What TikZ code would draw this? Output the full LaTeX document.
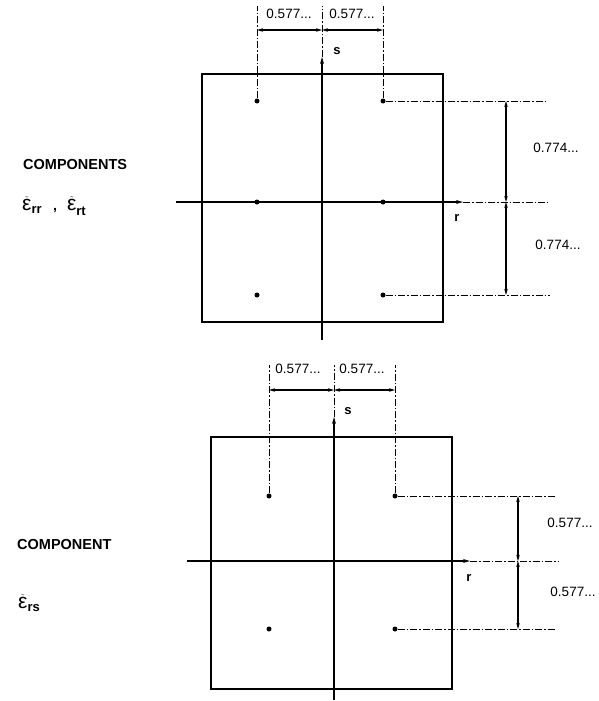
\documentclass[tikz,border=0pt]{standalone}
\usepackage{amsmath}
\usepackage{fontspec}
\setmainfont{Liberation Sans}
\usetikzlibrary{arrows.meta,positioning}

\tikzset{
  gpt/.style={circle,fill=black,inner sep=0pt,minimum size=5pt},
  frame/.style={line width=1.3pt},
  axis/.style={line width=1.3pt,-{Stealth[length=7pt,width=4pt]}},
  extline/.style={line width=0.7pt,dash pattern=on 7pt off 2pt on 1.5pt off 2pt},
  dimline/.style={line width=1.1pt,{Stealth[length=6pt,width=3.5pt]}-{Stealth[length=6pt,width=3.5pt]}},
  dimtext/.style={font=\fontsize{13.5}{14}\selectfont,inner sep=0pt},
  axtext/.style={font=\fontsize{13}{14}\selectfont\bfseries,inner sep=0pt},
  captext/.style={font=\fontsize{14.5}{16}\selectfont\bfseries,inner sep=0pt,anchor=west},
  epstext/.style={inner sep=0pt,anchor=west}
}
\newcommand{\epsc}[1]{$\tilde{\text{\fontsize{21}{22}\selectfont ε}}%
  _{\text{\fontsize{13}{14}\selectfont\bfseries #1}}$}

\begin{document}
\begin{tikzpicture}[x=1pt,y=-1pt]
  \useasboundingbox (0,0) rectangle (598,701);

  % upper element
  \begin{scope}
    \draw[frame] (202,74) rectangle (443,322);
    \node[gpt] (p11) at (257,101) {};
    \node[gpt] (p12) at (383,101) {};
    \node[gpt] (p21) at (257,202) {};
    \node[gpt] (p22) at (383,202) {};
    \node[gpt] (p31) at (257,295) {};
    \node[gpt] (p32) at (383,295) {};

    \coordinate (rtail) at (176,202);
    \coordinate (rhead) at (463,202);
    \coordinate (stail) at (322,340);
    \coordinate (shead) at (322,57);
    \draw[axis] (rtail) -- (rhead);
    \draw[axis] (stail) -- (shead);

    \coordinate (stop) at (322,6);
    \coordinate (e11) at (257,6);
    \coordinate (e12) at (383,6);
    \coordinate (e1r) at (546,101);
    \coordinate (e2r) at (548,202);
    \coordinate (e3r) at (550,295);
    \draw[extline] (shead) -- (stop);
    \draw[extline] (p11) -- (e11);
    \draw[extline] (p12) -- (e12);
    \draw[extline] (p12) -- (e1r);
    \draw[extline] (rhead) -- (e2r);
    \draw[extline] (p32) -- (e3r);

    \coordinate (d1) at (257,30);
    \coordinate (d2) at (322,30);
    \coordinate (d3) at (383,30);
    \draw[dimline] (d1) -- (d2);
    \draw[dimline] (d2) -- (d3);
    \coordinate (v1) at (506,101);
    \coordinate (v2) at (506,202);
    \coordinate (v3) at (506,295);
    \draw[dimline] (v1) -- (v2);
    \draw[dimline] (v2) -- (v3);

    \node[dimtext] (h1) at (289,14) {0.577...};
    \node[dimtext] (h2) at (352,14) {0.577...};
    \node[dimtext] (k1) at (556,148) {0.774...};
    \node[dimtext] (k2) at (558,245) {0.774...};
    \node[axtext] (slab) at (337,51) {s};
    \node[axtext] (rlab) at (457,218) {r};

    \node[captext] (comps) at (23,165) {COMPONENTS};
    \node[epstext] (eps1) at (22,206)
      {\epsc{rr}\hspace{11pt}{\fontsize{14}{16}\selectfont\bfseries ,}\hspace{10pt}\epsc{rt}};
  \end{scope}

  % lower element
  \begin{scope}
    \draw[frame] (211,437) rectangle (452,689);
    \node[gpt] (q11) at (269,496) {};
    \node[gpt] (q12) at (395,496) {};
    \node[gpt] (q21) at (269,629) {};
    \node[gpt] (q22) at (395,629) {};

    \coordinate (Rtail) at (187,561);
    \coordinate (Rhead) at (470,561);
    \coordinate (Stail) at (334,700);
    \coordinate (Shead) at (334,417);
    \draw[axis] (Rtail) -- (Rhead);
    \draw[axis] (Stail) -- (Shead);

    \coordinate (Stop) at (334,365);
    \coordinate (f11) at (269,365);
    \coordinate (f12) at (395,365);
    \coordinate (f1r) at (555,496);
    \coordinate (f2r) at (558,561);
    \coordinate (f3r) at (556,629);
    \draw[extline] (Shead) -- (Stop);
    \draw[extline] (q11) -- (f11);
    \draw[extline] (q12) -- (f12);
    \draw[extline] (q12) -- (f1r);
    \draw[extline] (Rhead) -- (f2r);
    \draw[extline] (q22) -- (f3r);

    \coordinate (g1) at (269,390);
    \coordinate (g2) at (334,390);
    \coordinate (g3) at (395,390);
    \draw[dimline] (g1) -- (g2);
    \draw[dimline] (g2) -- (g3);
    \coordinate (w1) at (518,496);
    \coordinate (w2) at (518,561);
    \coordinate (w3) at (518,629);
    \draw[dimline] (w1) -- (w2);
    \draw[dimline] (w2) -- (w3);

    \node[dimtext] (H1) at (298,369) {0.577...};
    \node[dimtext] (H2) at (362,369) {0.577...};
    \node[dimtext] (K1) at (570,523) {0.577...};
    \node[dimtext] (K2) at (573,592) {0.577...};
    \node[axtext] (Slab) at (348,411) {s};
    \node[axtext] (Rlab) at (469,578) {r};

    \node[captext] (comp) at (17,545) {COMPONENT};
    \node[epstext] (eps3) at (18,603) {\epsc{rs}};
  \end{scope}
\end{tikzpicture}
\end{document}
